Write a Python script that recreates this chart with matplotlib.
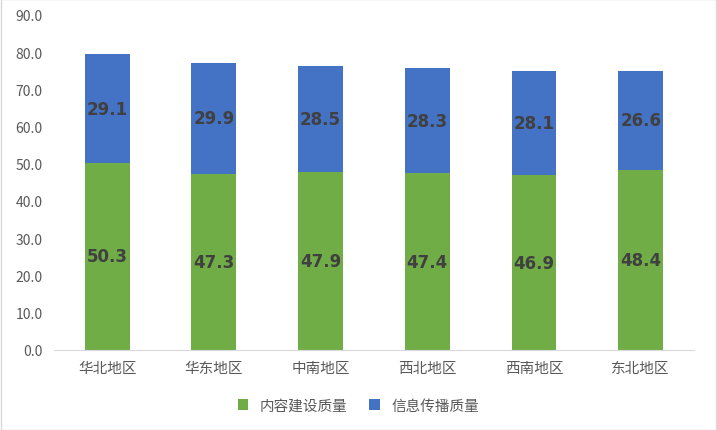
import matplotlib
matplotlib.use("Agg")
import matplotlib.pyplot as plt
from matplotlib.patches import Rectangle

plt.rcParams['font.family'] = ['Noto Sans CJK SC', 'DejaVu Sans']

regions = ["华北地区", "华东地区", "中南地区", "西北地区", "西南地区", "东北地区"]
content = [50.3, 47.3, 47.9, 47.4, 46.9, 48.4]
spread = [29.1, 29.9, 28.5, 28.3, 28.1, 26.6]
series_names = ["内容建设质量", "信息传播质量"]

fig = plt.figure(figsize=(7.17, 4.31), dpi=100)
ax = fig.add_axes([0.075, 0.186, 0.893, 0.777])
x = range(len(regions))
w = 0.42
b1 = ax.bar(x, content, w, color="#70AD47", label=series_names[0])
b2 = ax.bar(x, spread, w, bottom=content, color="#4472C4", label=series_names[1])
for i in x:
    ax.text(i, content[i] / 2, f"{content[i]:.1f}", ha="center", va="center",
            fontsize=12, fontweight="bold", color="#404040", family="DejaVu Sans")
    ax.text(i, content[i] + spread[i] / 2, f"{spread[i]:.1f}", ha="center", va="center",
            fontsize=12, fontweight="bold", color="#404040", family="DejaVu Sans")

ax.set_xlim(-0.5, 5.5)
ax.set_ylim(0, 90)
ax.set_yticks(range(0, 91, 10))
ax.set_yticklabels([f"{v:.1f}" for v in range(0, 91, 10)], color="#595959", fontsize=10)
ax.set_xticks(list(x))
ax.set_xticklabels(regions, color="#595959", fontsize=10.5)
for s in ["top", "right", "left"]:
    ax.spines[s].set_visible(False)
ax.spines["bottom"].set_color("#D9D9D9")
ax.tick_params(length=0, pad=8)

fig.legend(loc="lower center", bbox_to_anchor=(0.5, 0.01), ncol=2, frameon=False,
           fontsize=10.5, handlelength=0.7, handleheight=0.7, labelcolor="#595959",
           columnspacing=1.5)
fig.add_artist(Rectangle((0.001, 0.001), 0.998, 0.998, transform=fig.transFigure,
                         fill=False, edgecolor="#D9D9D9", linewidth=1))
fig.savefig("out.png", dpi=100)
